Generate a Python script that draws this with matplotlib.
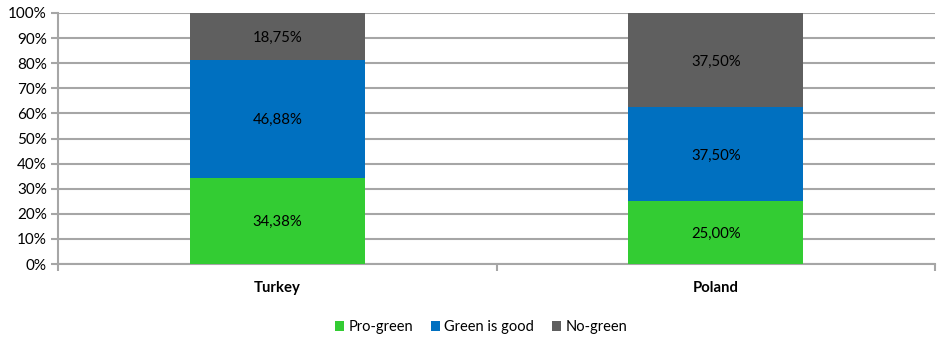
import matplotlib
matplotlib.use("Agg")
import matplotlib.pyplot as plt
from matplotlib.ticker import MultipleLocator, PercentFormatter, FixedLocator

plt.rcParams['font.family'] = ['Lato', 'DejaVu Sans']

countries = ["Turkey", "Poland"]
pro_green = [34.38, 25.00]
green_is_good = [46.88, 37.50]
no_green = [18.75, 37.50]

series = [
    ("Pro-green", pro_green, "#33CC33"),
    ("Green is good", green_is_good, "#0070C0"),
    ("No-green", no_green, "#5F5F5F"),
]

fig = plt.figure(figsize=(9.38, 3.37), dpi=100)
ax = fig.add_axes([58 / 938, (337 - 264) / 337, (935 - 58) / 938, (264 - 13) / 337])

x = list(range(len(countries)))
bottom = [0.0] * len(countries)
for name, vals, color in series:
    ax.bar(x, vals, width=0.4, bottom=bottom, color=color, label=name, zorder=3)
    for xi, b, v in zip(x, bottom, vals):
        ax.text(xi, b + v / 2, f"{v:.2f}%".replace(".", ","), ha="center", va="center_baseline",
                fontsize=10.7, color="black", zorder=4)
    bottom = [b + v for b, v in zip(bottom, vals)]

ax.set_xlim(-0.5, len(countries) - 0.5)
ax.set_ylim(0, 100)
ax.yaxis.set_major_locator(MultipleLocator(10))
ax.yaxis.set_major_formatter(PercentFormatter(decimals=0))
ax.grid(axis="y", color="#A6A6A6", linewidth=1.5, zorder=0)

ax.set_xticks(x)
ax.set_xticklabels(countries, fontweight="bold", fontsize=10.7)
ax.xaxis.set_minor_locator(FixedLocator([-0.5, 0.5, 1.5]))
ax.tick_params(axis="x", which="major", length=0, pad=12)
ax.tick_params(axis="x", which="minor", length=5, color="#A6A6A6", width=1.5)
ax.tick_params(axis="y", length=5, color="#A6A6A6", width=1.5, labelsize=11, pad=3)

for side in ("top", "right"):
    ax.spines[side].set_visible(False)
for side in ("left", "bottom"):
    ax.spines[side].set_color("#A6A6A6")
    ax.spines[side].set_linewidth(1.5)

fig.legend(loc="center", bbox_to_anchor=(481 / 938, 1 - 327 / 337), ncol=3, frameon=False,
           fontsize=10.5, handlelength=0.65, handleheight=0.65, handletextpad=0.3, columnspacing=1.2)

fig.savefig("out.png", dpi=100)
